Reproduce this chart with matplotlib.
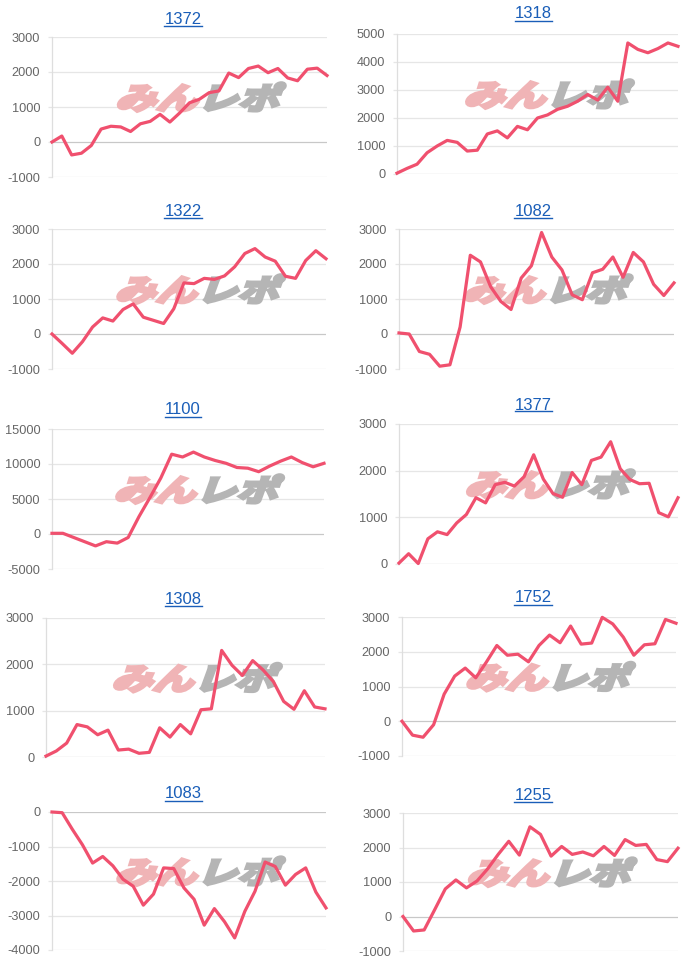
import matplotlib
matplotlib.use("Agg")
import matplotlib.pyplot as plt
from matplotlib.textpath import TextPath
from matplotlib.patches import PathPatch
from matplotlib.font_manager import FontProperties
from matplotlib.transforms import Affine2D
from matplotlib.lines import Line2D

plt.rcParams['font.family'] = ['Liberation Sans', 'DejaVu Sans']

# --- data (台番ごとの差枚推移) ---
titles = ["1372", "1318", "1322", "1082", "1100", "1377", "1308", "1752", "1083", "1255"]

s1372 = [0, 170, -370, -320, -100, 370, 450, 430, 300, 520, 590, 790, 570, 830, 1120,
         1220, 1410, 1460, 1970, 1840, 2100, 2170, 1980, 2100, 1830, 1750, 2080, 2110, 1900]
s1318 = [30, 200, 350, 760, 1000, 1200, 1130, 820, 850, 1430, 1540, 1290, 1700, 1580, 2000,
         2110, 2310, 2420, 2600, 2840, 2640, 3100, 2600, 4680, 4450, 4330, 4480, 4680, 4560]
s1322 = [0, -270, -550, -220, 200, 460, 370, 700, 860, 480, 390, 300, 720, 1460, 1440,
         1590, 1560, 1660, 1920, 2300, 2440, 2200, 2080, 1650, 1590, 2100, 2380, 2150]
s1082 = [30, 0, -500, -580, -920, -880, 200, 2250, 2060, 1350, 930, 700, 1600, 1950, 2900,
         2200, 1830, 1120, 980, 1750, 1850, 2200, 1620, 2330, 2060, 1420, 1100, 1460]
s1100 = [100, 100, -500, -1100, -1700, -1100, -1300, -500, 2500, 5200, 8000, 11400, 11000,
         11700, 11000, 10500, 10100, 9500, 9400, 8900, 9700, 10400, 11000, 10200, 9600, 10100]
s1377 = [20, 220, 10, 540, 690, 630, 880, 1060, 1420, 1310, 1700, 1750, 1670, 1870, 2340,
         1820, 1510, 1430, 1960, 1700, 2220, 2290, 2620, 2040, 1810, 1720, 1730, 1100, 1010, 1420]
s1308 = [20, 130, 300, 700, 650, 480, 580, 150, 170, 80, 100, 630, 430, 700, 500,
         1020, 1040, 2300, 1980, 1760, 2080, 1880, 1630, 1200, 1030, 1430, 1080, 1040]
s1752 = [0, -400, -460, -100, 780, 1300, 1530, 1250, 1700, 2180, 1900, 1930, 1710, 2180,
         2480, 2260, 2740, 2220, 2250, 2990, 2800, 2420, 1900, 2200, 2230, 2930, 2820]
s1083 = [0, -20, -500, -950, -1480, -1290, -1560, -1950, -2150, -2700, -2380, -1620, -1640,
         -2200, -2530, -3280, -2800, -3180, -3650, -2880, -2300, -1450, -1580, -2120, -1810,
         -1620, -2320, -2780]
s1255 = [0, -420, -390, 200, 800, 1060, 830, 1030, 1380, 1800, 2180, 1780, 2600, 2380,
         1750, 2030, 1800, 1870, 1760, 2030, 1770, 2230, 2060, 2090, 1650, 1590, 1980]

series = [s1372, s1318, s1322, s1082, s1100, s1377, s1308, s1752, s1083, s1255]

# --- layout (pixels) ---
W, H = 700, 968
# y axis range: min, max, step
yranges = [(-1000, 3000, 1000), (0, 5000, 1000), (-1000, 3000, 1000), (-1000, 3000, 1000),
           (-5000, 15000, 5000), (0, 3000, 1000), (0, 3000, 1000), (-1000, 3000, 1000),
           (-4000, 0, 1000), (-1000, 3000, 1000)]
# plot area: x0, x1, ytop, ybottom
boxes = [(52, 327, 37, 177), (397, 678, 34, 174),
         (52, 326, 229, 369), (399, 674, 229, 369),
         (52, 324, 429, 569), (399, 678, 424, 564),
         (46, 325, 618, 757), (402, 676, 617, 756),
         (52, 326, 812, 950), (403, 678, 813, 951)]
title_y = [19, 14, 211, 211, 410, 405, 599, 598, 794, 795]
title_x = [183, 533]

LINE = "#f0506e"
BLUE = "#1a5eb8"
GRID = "#e6e6e6"
ZERO = "#c8c8c8"

wm_font = FontProperties(family="Noto Sans CJK JP", weight="bold")


def watermark(ax, box):
    x0, x1, yt, yb = box
    cx = x0 + 0.545 * (x1 - x0)
    cy = (H - yb) + 0.565 * (yb - yt)
    sx, sy, sk = 41, 30, 20
    start = cx - 2 * sx - 5
    for txt, col, off in [("みん", "#f0b4b6", 0), ("レポ", "#b5b5b5", 2)]:
        p = TextPath((off, 0), txt, size=1, prop=wm_font)
        tr = Affine2D().scale(sx, sy).skew_deg(sk, 0).translate(start, cy - 0.37 * sy)
        patch = PathPatch(p, facecolor=col, edgecolor=col, linewidth=2.6,
                          joinstyle="miter", transform=tr, zorder=1, clip_on=False)
        ax.add_artist(patch)


fig = plt.figure(figsize=(7, 9.68), dpi=100)
title_texts = []

for k, vals in enumerate(series):
    x0, x1, yt, yb = boxes[k]
    ax = fig.add_axes([x0 / W, 1 - yb / H, (x1 - x0) / W, (yb - yt) / H])
    lo, hi, step = yranges[k]
    ticks = list(range(lo, hi + 1, step))
    ax.set_xlim(0, len(vals) - 1)
    ax.set_ylim(lo, hi)
    ax.set_yticks(ticks)
    ax.set_yticklabels([str(t) for t in ticks])
    ax.set_xticks([])
    for t in ticks:
        ax.axhline(t, color=ZERO if t == 0 else GRID, lw=0.9, zorder=0.5)
    for s in ["top", "right", "bottom"]:
        ax.spines[s].set_visible(False)
    ax.spines["left"].set_color("#dedede")
    ax.spines["left"].set_linewidth(0.9)
    ax.tick_params(axis="y", length=3, width=0.9, color=GRID, labelsize=9.2,
                   labelcolor="#666666", pad=5.5)
    ax.patch.set_alpha(0)

    watermark(ax, boxes[k])
    ax.plot(range(len(vals)), vals, color=LINE, lw=2.3, zorder=3, clip_on=False)

    ty = title_y[k]
    t = fig.text(title_x[k % 2] / W, 1 - (ty + 4.5) / H, titles[k], ha="center",
                 va="baseline", fontsize=12, color=BLUE)
    title_texts.append((t, ty))

# 下線をつける
fig.canvas.draw()
r = fig.canvas.get_renderer()
for t, ty in title_texts:
    bb = t.get_window_extent(r)
    yl = 1 - (ty + 6.5) / H
    fig.add_artist(Line2D([bb.x0 / W, bb.x1 / W], [yl, yl], transform=fig.transFigure,
                          color=BLUE, lw=1.0))

fig.savefig("out.png", dpi=100)
